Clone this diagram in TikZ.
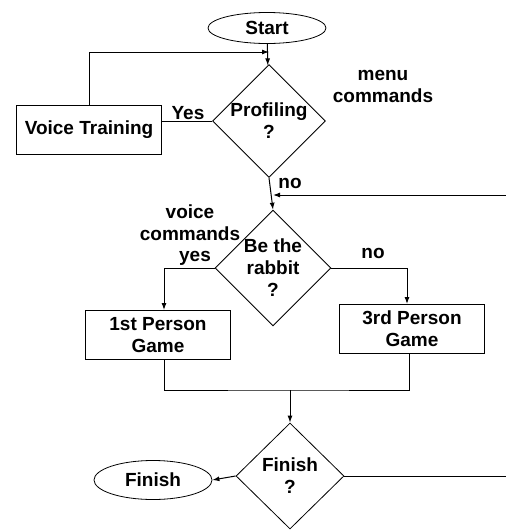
\documentclass[tikz,border=0pt]{standalone}
\usepackage{fontspec}
\setmainfont{Liberation Sans}
\usetikzlibrary{shapes.geometric,arrows.meta}

\begin{document}
\begin{tikzpicture}[x=1pt,y=-1pt,
  font=\bfseries\fontsize{19}{22}\selectfont,
  box/.style={draw,line width=1pt,minimum width=145pt,minimum height=49pt,align=center,inner sep=0pt},
  oval/.style={draw,ellipse,line width=0.8pt,minimum width=118pt,minimum height=31pt,inner sep=0pt},
  choice/.style={draw,diamond,line width=0.8pt,align=center,inner sep=0pt,aspect=1,minimum width=108pt,minimum height=106pt},
  arr/.style={-{Latex[length=7pt,width=5pt]},line width=1pt},
  line/.style={line width=1pt},
  lbl/.style={align=center,inner sep=0pt}]

\useasboundingbox (0,0) rectangle (506,531);

\node[oval] (start) at (267,28) {Start};
\node[choice] (prof) at (269,121) {Profiling\\?};
\node[box] (voice) at (89,130) {Voice Training};

\node[choice] (rabbit) at (273,268) {Be the\\rabbit\\?};
\node[box] (first) at (158,335) {1st Person\\Game};
\node[box] (third) at (412,329) {3rd Person\\Game};

\node[choice] (fin) at (290,476) {Finish\\?};
\node[oval,minimum height=39pt] (finish) at (153,480) {Finish};

\node[lbl] (yes1) at (188,113) {Yes};
\node[lbl] (menu) at (383,86) {menu\\commands};
\node[lbl] (no1) at (290,183) {no};
\node[lbl] (vcmd) at (190,223) {voice\\commands};
\node[lbl] (yes2) at (195,258) {yes};
\node[lbl] (no2) at (373,253) {no};

\coordinate (loopin) at (269,52);
\coordinate (back) at (506,195);
\coordinate (merge) at (290,390);
\coordinate (out) at (506,476);

\draw[arr] (start) -- (prof);
\draw[arr] (voice.north) |- (loopin);
\draw[line] (prof.west) -- (prof.west -| voice.east);

\draw[arr] (prof.south) -- (rabbit.north);
\draw[arr] (back) -- (back -| rabbit.north);

\draw[arr] (rabbit.west) -| ([xshift=6pt]first.north);
\draw[arr] (rabbit.east) -| ([xshift=-5pt]third.north);

\draw[line] ([xshift=6pt]first.south) |- (merge) -| ([xshift=-3pt]third.south);
\draw[arr] (merge) -- (fin.north);

\draw[arr] (fin.west) -- (finish.east);
\draw[line] (fin.east) -- (out);

\end{tikzpicture}
\end{document}
